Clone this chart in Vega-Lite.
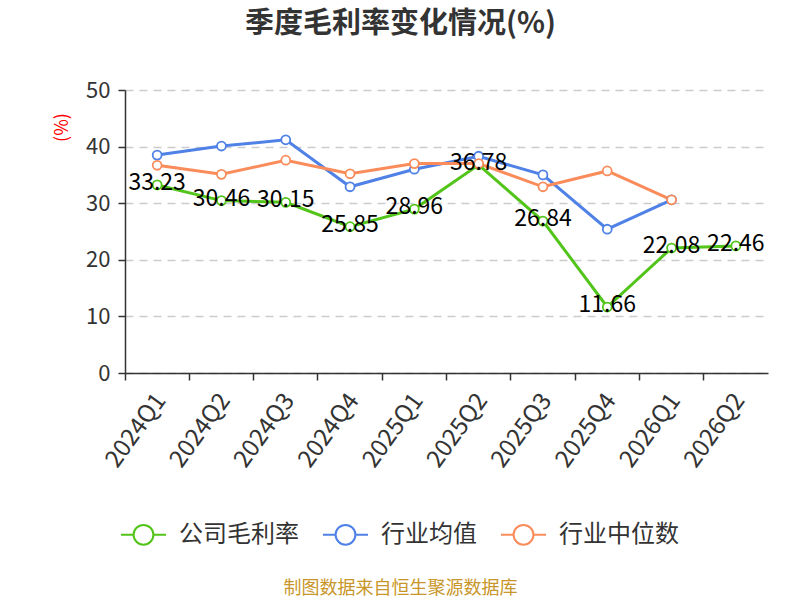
{
  "$schema": "https://vega.github.io/schema/vega-lite/v6.json",
  "autosize": {"type": "none"},
  "width": 643,
  "height": 283,
  "padding": {"left": 125, "top": 90, "right": 32, "bottom": 227},
  "background": "white",
  "title": {
    "text": "季度毛利率变化情况(%)",
    "anchor": "middle",
    "frame": "group",
    "dx": -46,
    "offset": 40,
    "fontSize": 29,
    "fontWeight": "bold",
    "color": "#333333",
    "font": "Noto Sans CJK SC"
  },
  "config": {
    "font": "Noto Sans CJK SC",
    "view": {"stroke": null}
  },
  "data": {
    "values": [
      {"quarter": "2024Q1", "series": "公司毛利率", "value": 33.23},
      {"quarter": "2024Q2", "series": "公司毛利率", "value": 30.46},
      {"quarter": "2024Q3", "series": "公司毛利率", "value": 30.15},
      {"quarter": "2024Q4", "series": "公司毛利率", "value": 25.85},
      {"quarter": "2025Q1", "series": "公司毛利率", "value": 28.96},
      {"quarter": "2025Q2", "series": "公司毛利率", "value": 36.78},
      {"quarter": "2025Q3", "series": "公司毛利率", "value": 26.84},
      {"quarter": "2025Q4", "series": "公司毛利率", "value": 11.66},
      {"quarter": "2026Q1", "series": "公司毛利率", "value": 22.08},
      {"quarter": "2026Q2", "series": "公司毛利率", "value": 22.46},
      {"quarter": "2024Q1", "series": "行业均值", "value": 38.5},
      {"quarter": "2024Q2", "series": "行业均值", "value": 40.1},
      {"quarter": "2024Q3", "series": "行业均值", "value": 41.2},
      {"quarter": "2024Q4", "series": "行业均值", "value": 32.9},
      {"quarter": "2025Q1", "series": "行业均值", "value": 36.0},
      {"quarter": "2025Q2", "series": "行业均值", "value": 38.3},
      {"quarter": "2025Q3", "series": "行业均值", "value": 35.0},
      {"quarter": "2025Q4", "series": "行业均值", "value": 25.4},
      {"quarter": "2026Q1", "series": "行业均值", "value": 30.6},
      {"quarter": "2024Q1", "series": "行业中位数", "value": 36.7},
      {"quarter": "2024Q2", "series": "行业中位数", "value": 35.1},
      {"quarter": "2024Q3", "series": "行业中位数", "value": 37.6},
      {"quarter": "2024Q4", "series": "行业中位数", "value": 35.2},
      {"quarter": "2025Q1", "series": "行业中位数", "value": 37.0},
      {"quarter": "2025Q2", "series": "行业中位数", "value": 37.0},
      {"quarter": "2025Q3", "series": "行业中位数", "value": 32.9},
      {"quarter": "2025Q4", "series": "行业中位数", "value": 35.7},
      {"quarter": "2026Q1", "series": "行业中位数", "value": 30.6}
    ]
  },
  "encoding": {
    "x": {
      "field": "quarter",
      "type": "ordinal",
      "sort": null,
      "scale": {"type": "band", "paddingInner": 0, "paddingOuter": 0},
      "axis": {
        "title": "制图数据来自恒生聚源数据库",
        "titleColor": "#c8962a",
        "titleFontSize": 18,
        "titleFontWeight": "normal",
        "titleX": 275,
        "titleY": 215,
        "titleAlign": "center",
        "titleBaseline": "middle",
        "titleAnchor": null,
        "bandPosition": 0,
        "labelOffset": 4,
        "labelAngle": -54,
        "labelFontSize": 24,
        "labelColor": "#333333",
        "labelPadding": 16,
        "tickSize": 7,
        "tickColor": "#333333",
        "tickWidth": 1.5,
        "domainColor": "#333333",
        "domainWidth": 1.5,
        "grid": false
      }
    },
    "y": {
      "field": "value",
      "type": "quantitative",
      "scale": {"domain": [0, 50], "nice": false},
      "axis": {
        "title": "(%)",
        "titleColor": "#ff0000",
        "titleFontSize": 18,
        "titleFontWeight": "normal",
        "titleX": -63,
        "titleY": 37,
        "titleAngle": -90,
        "titleAlign": "center",
        "titleBaseline": "middle",
        "titleAnchor": null,
        "values": [0, 10, 20, 30, 40, 50],
        "labelFontSize": 22,
        "labelColor": "#333333",
        "labelPadding": 8,
        "tickSize": 7,
        "tickColor": "#333333",
        "tickWidth": 1.5,
        "domainColor": "#333333",
        "domainWidth": 1.5,
        "grid": true,
        "gridColor": "#cccccc",
        "gridDash": [8, 6],
        "gridWidth": 1.5
      }
    }
  },
  "layer": [
    {
      "mark": {"type": "line", "strokeWidth": 3},
      "encoding": {
        "stroke": {
          "field": "series",
          "type": "nominal",
          "scale": {
            "domain": ["公司毛利率", "行业均值", "行业中位数"],
            "range": ["#52c41a", "#4f81e6", "#fa8c5c"]
          },
          "legend": {
            "orient": "none",
            "legendX": -5,
            "legendY": 421,
            "direction": "horizontal",
            "title": null,
            "symbolType": "M-1,0L-0.44,0M0.44,0L1,0M0.44,0A0.44,0.44 0 1,1 -0.44,0A0.44,0.44 0 1,1 0.44,0",
            "symbolSize": 2025,
            "symbolStrokeWidth": 2,
            "symbolFillColor": "white",
            "labelFontSize": 24,
            "labelColor": "#333333",
            "labelOffset": 12,
            "columnPadding": 20
          }
        }
      }
    },
    {
      "mark": {"type": "point", "filled": true, "fill": "white", "size": 80, "strokeWidth": 1.8, "opacity": 1},
      "encoding": {
        "stroke": {"field": "series", "type": "nominal"}
      }
    },
    {
      "transform": [{"filter": "datum.series === '公司毛利率'"}],
      "mark": {"type": "text", "fontSize": 23, "color": "#000000", "dy": -2},
      "encoding": {
        "text": {"field": "value", "type": "quantitative", "format": ".2f"}
      }
    }
  ]
}
